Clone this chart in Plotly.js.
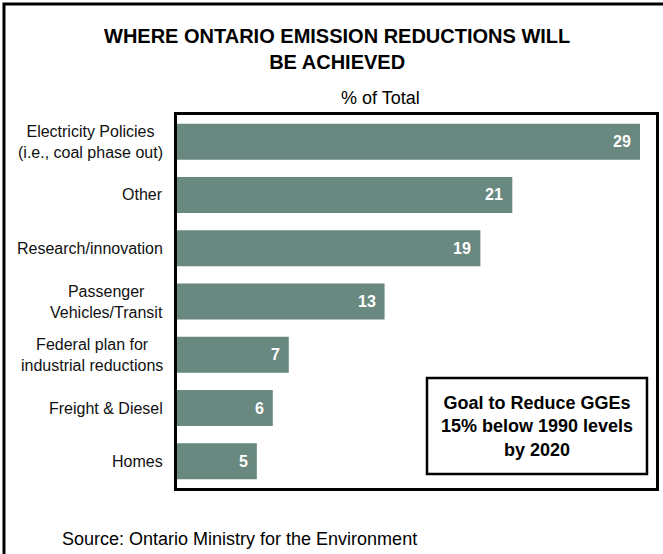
<!DOCTYPE html>
<html>
<head>
<meta charset="utf-8">
<script src="https://cdn.plot.ly/plotly-3.0.1.min.js"></script>
<style>html,body{margin:0;padding:0;background:#fff;}#chart{width:663px;height:554px;}</style>
</head>
<body>
<div id="chart"></div>
<script>
const categories = ["Electricity Policies<br>(i.e., coal phase out)", "Other", "Research/innovation", "Passenger<br>Vehicles/Transit", "Federal plan for<br>industrial reductions", "Freight & Diesel", "Homes"];
const values = [29, 21, 19, 13, 7, 6, 5];
const titleText = "WHERE ONTARIO EMISSION REDUCTIONS WILL<br>BE ACHIEVED";
const subtitleText = "% of Total";
const goalText = "Goal to Reduce GGEs<br>15% below 1990 levels<br>by 2020";
const sourceText = "Source: Ontario Ministry for the Environment";

const FONT = "Liberation Sans, Arial, sans-serif";
const barColor = "#698880";

const trace = {
  type: "bar",
  orientation: "h",
  x: values,
  y: categories,
  marker: {color: barColor, line: {width: 0}},
  hoverinfo: "none"
};

const annotations = [];
categories.forEach((c, i) => {
  annotations.push({
    xref: "paper", yref: "y", x: 0, y: c, xanchor: "right", yanchor: "middle",
    xshift: -12, text: c, showarrow: false, align: "center",
    font: {family: FONT, size: 16, color: "#111"}
  });
  annotations.push({
    xref: "x", yref: "y", x: values[i], y: c, xanchor: "right", yanchor: "middle",
    xshift: -7, text: "<b>" + values[i] + "</b>", showarrow: false,
    font: {family: FONT, size: 16, color: "#ffffff"}
  });
});
annotations.push({
  xref: "paper", yref: "paper", x: 0.334, y: 1.177, xanchor: "center", yanchor: "middle",
  text: "<b>" + titleText + "</b>", showarrow: false, align: "center",
  font: {family: FONT, size: 20, color: "#000"}
});
annotations.push({
  xref: "paper", yref: "paper", x: 0.4238, y: 1.0456, xanchor: "center", yanchor: "middle",
  text: subtitleText, showarrow: false,
  font: {family: FONT, size: 18, color: "#000"}
});
annotations.push({
  xref: "paper", yref: "paper", x: 0.7516, y: 0.1662, xanchor: "center", yanchor: "middle",
  text: "<b>" + goalText + "</b>", showarrow: false, align: "center",
  font: {family: FONT, size: 18, color: "#000"}
});
annotations.push({
  xref: "paper", yref: "paper", x: -0.2443, y: -0.1367, xanchor: "left", yanchor: "middle",
  text: sourceText, showarrow: false,
  font: {family: FONT, size: 18, color: "#000"}
});

const layout = {
  width: 663, height: 554,
  margin: {l: 177, r: 7, t: 115, b: 66},
  paper_bgcolor: "#fff", plot_bgcolor: "#fff",
  showlegend: false,
  bargap: 0.325,
  xaxis: {range: [0, 30], showgrid: false, zeroline: false, showticklabels: false, ticks: "",
          showline: true, mirror: true, linecolor: "#000", linewidth: 3, fixedrange: true},
  yaxis: {autorange: "reversed", showgrid: false, zeroline: false, showticklabels: false, ticks: "",
          showline: true, mirror: true, linecolor: "#000", linewidth: 3, fixedrange: true},
  annotations: annotations,
  shapes: [
    {type: "rect", xref: "paper", yref: "paper", x0: 0.5219, x1: 0.9812, y0: 0.0375, y1: 0.2949,
     line: {color: "#000", width: 2.5}, fillcolor: "rgba(0,0,0,0)"},
    {type: "rect", xref: "paper", yref: "paper", x0: -0.3612, x1: 1.2, y0: -0.4, y1: 1.2976,
     line: {color: "#000", width: 3}, fillcolor: "rgba(0,0,0,0)"}
  ]
};

Plotly.newPlot("chart", [trace], layout, {displayModeBar: false, staticPlot: true});
</script>
</body>
</html>
